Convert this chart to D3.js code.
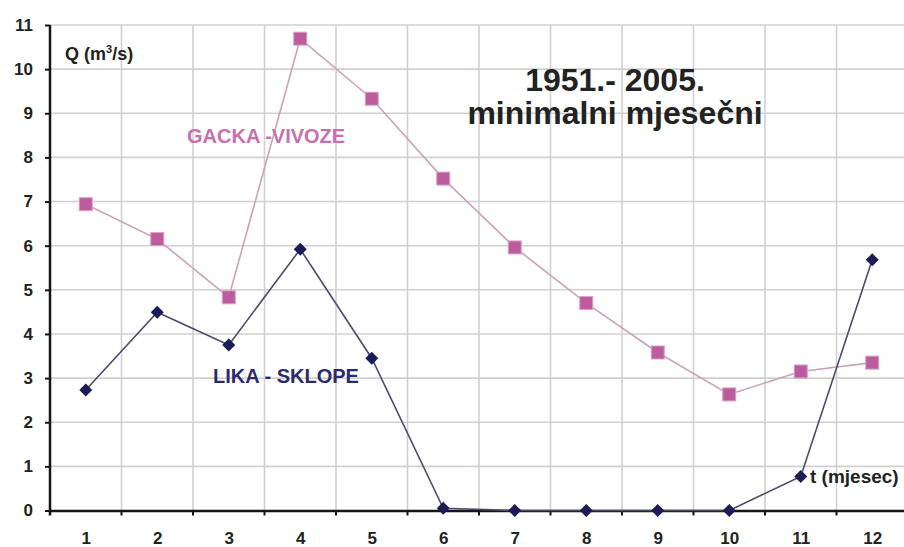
<!DOCTYPE html>
<html>
<head>
<meta charset="utf-8">
<script src="https://cdn.jsdelivr.net/npm/d3@7"></script>
<style>
  html, body { margin: 0; padding: 0; background: #fff; }
  #chart { width: 904px; height: 547px; overflow: hidden; }
  text { font-family: "Liberation Sans", Arial, sans-serif; font-weight: bold; }
</style>
</head>
<body>
<div id="chart"></div>
<script>
// months (t) and minimum monthly discharge Q (m3/s), 1951 - 2005
const months = [1, 2, 3, 4, 5, 6, 7, 8, 9, 10, 11, 12];
const gackaVivoze = [6.94, 6.15, 4.83, 10.69, 9.33, 7.52, 5.96, 4.70, 3.58, 2.63, 3.15, 3.35];
const likaSklope = [2.73, 4.49, 3.75, 5.92, 3.45, 0.05, 0, 0, 0, 0, 0.77, 5.68];
const yTicks = [0, 1, 2, 3, 4, 5, 6, 7, 8, 9, 10, 11];

const width = 904, height = 547;
const margin = { left: 50, top: 25 };
const plotRight = 908; // plot runs off the right edge in the original
const plotBottom = 510.5;

const svg = d3.select('#chart')
  .append('svg')
  .attr('width', width)
  .attr('height', height);

const x = d3.scaleLinear()
  .domain([0.5, 12.5])
  .range([margin.left, plotRight]);

const y = d3.scaleLinear()
  .domain([0, 11])
  .range([plotBottom, margin.top]);

// grid lines
const bounds = d3.range(1.5, 13, 1);
svg.append('g')
  .selectAll('line')
  .data(bounds)
  .enter()
  .append('line')
  .attr('x1', (d) => x(d))
  .attr('x2', (d) => x(d))
  .attr('y1', y(11))
  .attr('y2', y(0))
  .attr('stroke', '#d3cfd1')
  .attr('stroke-width', 1.6);

svg.append('g')
  .selectAll('line')
  .data(yTicks.slice(1))
  .enter()
  .append('line')
  .attr('x1', x(0.5))
  .attr('x2', plotRight)
  .attr('y1', (d) => y(d))
  .attr('y2', (d) => y(d))
  .attr('stroke', '#d3cfd1')
  .attr('stroke-width', 1.6);

// y axis
const yAxis = svg.append('g')
  .attr('transform', `translate(${margin.left},0)`)
  .call(d3.axisLeft(y).tickValues(yTicks).tickSize(5).tickPadding(12).tickSizeOuter(0));
yAxis.select('.domain').attr('stroke', '#151515').attr('stroke-width', 2.5)
  .attr('d', `M0,${y(11)}V${plotBottom + 5}`);
yAxis.selectAll('.tick line').attr('stroke', '#151515').attr('stroke-width', 2);
yAxis.selectAll('text')
  .attr('font-size', '17px')
  .attr('fill', '#222');

// x axis: labels at month centres, ticks at boundaries
const xAxis = svg.append('g')
  .attr('transform', `translate(0,${plotBottom})`)
  .call(d3.axisBottom(x).tickValues(months).tickSize(0).tickPadding(21).tickSizeOuter(0));
xAxis.select('.domain').attr('stroke', '#151515').attr('stroke-width', 2.5);
xAxis.selectAll('text')
  .attr('font-size', '17px')
  .attr('fill', '#222');

svg.append('g')
  .selectAll('line')
  .data(bounds)
  .enter()
  .append('line')
  .attr('x1', (d) => x(d))
  .attr('x2', (d) => x(d))
  .attr('y1', plotBottom)
  .attr('y2', plotBottom + 5)
  .attr('stroke', '#151515')
  .attr('stroke-width', 2);

const gacka = months.map((m, i) => ({ m, v: gackaVivoze[i] }));
const lika = months.map((m, i) => ({ m, v: likaSklope[i] }));

const line = d3.line()
  .x((d) => x(d.m))
  .y((d) => y(d.v));

svg.append('path')
  .datum(gacka)
  .attr('fill', 'none')
  .attr('stroke', '#c9a3b8')
  .attr('stroke-width', 1.6)
  .attr('d', line);

svg.append('path')
  .datum(lika)
  .attr('fill', 'none')
  .attr('stroke', '#4c4b6c')
  .attr('stroke-width', 1.6)
  .attr('d', line);

const sq = 13;
svg.append('g')
  .selectAll('rect')
  .data(gacka)
  .enter()
  .append('rect')
  .attr('x', (d) => x(d.m) - sq / 2)
  .attr('y', (d) => y(d.v) - sq / 2)
  .attr('width', sq)
  .attr('height', sq)
  .attr('fill', '#bc5c9d')
  .attr('stroke', '#d9a0c6')
  .attr('stroke-width', 1);

svg.append('g')
  .selectAll('path')
  .data(lika)
  .enter()
  .append('path')
  .attr('transform', (d) => `translate(${x(d.m)},${y(d.v)})`)
  .attr('d', 'M0,-6.5L6.5,0L0,6.5L-6.5,0Z')
  .attr('fill', '#1d1a58');

// labels
const q = svg.append('text')
  .attr('x', 65)
  .attr('y', 60)
  .attr('font-size', '18px')
  .attr('fill', '#222');
q.append('tspan').text('Q (m');
q.append('tspan').attr('font-size', '11px').attr('dy', -7).text('3');
q.append('tspan').attr('dy', 7).text('/s)');

svg.append('text')
  .attr('x', 810)
  .attr('y', 483)
  .attr('font-size', '19px')
  .attr('fill', '#222')
  .text('t (mjesec)');

svg.append('text')
  .attr('x', 615)
  .attr('y', 91)
  .attr('text-anchor', 'middle')
  .attr('font-size', '32px')
  .attr('fill', '#222')
  .text('1951.- 2005.');

svg.append('text')
  .attr('x', 615)
  .attr('y', 124)
  .attr('text-anchor', 'middle')
  .attr('font-size', '32px')
  .attr('fill', '#222')
  .text('minimalni mjesečni');

svg.append('text')
  .attr('x', 187)
  .attr('y', 143)
  .attr('font-size', '20px')
  .attr('fill', '#c870ae')
  .text('GACKA -VIVOZE');

svg.append('text')
  .attr('x', 213)
  .attr('y', 383)
  .attr('font-size', '20px')
  .attr('fill', '#2d2a6c')
  .text('LIKA - SKLOPE');
</script>
</body>
</html>
